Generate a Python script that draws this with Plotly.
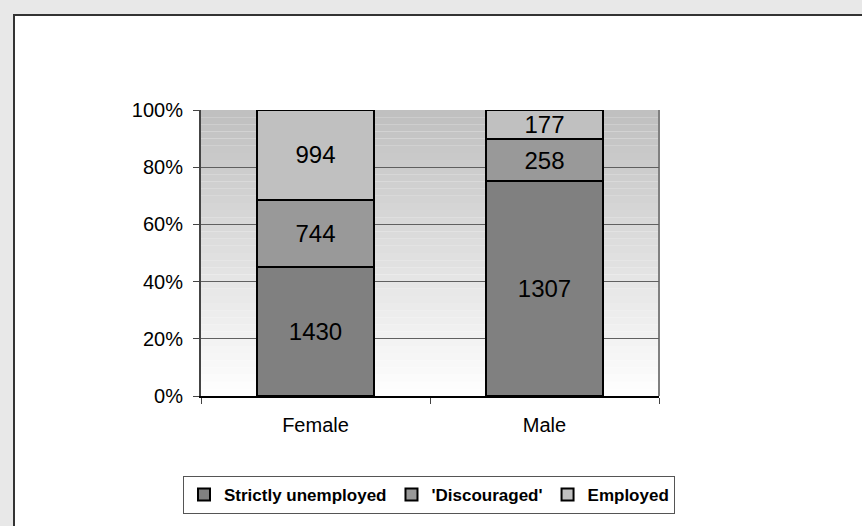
import plotly.graph_objects as go

categories = ["Female", "Male"]
strictly_unemployed = [1430, 1307]
discouraged = [744, 258]
employed = [994, 177]
series_names = ["Strictly unemployed", "'Discouraged'", "Employed"]
series_colors = ["#808080", "#999999", "#c0c0c0"]
y_ticks = [0, 20, 40, 60, 80, 100]

W, H = 862, 526
L, R, T, B = 201, 203, 110, 130
pw, ph = W - L - R, H - T - B

def px_x(p):
    return (p - L) / pw

def px_y(p):
    return (H - B - p) / ph

fig = go.Figure()
for name, vals, col in zip(series_names, [strictly_unemployed, discouraged, employed], series_colors):
    fig.add_trace(go.Bar(
        name=name, x=categories, y=vals, text=[str(v) for v in vals],
        texttemplate="%{text}", textposition="inside", insidetextanchor="middle",
        textangle=0, constraintext="none",
        textfont=dict(family="Liberation Sans, Arial", size=24, color="black"),
        marker=dict(color=col, line=dict(color="black", width=2)),
    ))

shapes = []
# outer white panel with dark border
shapes.append(dict(type="rect", xref="paper", yref="paper",
                   x0=px_x(14), x1=px_x(880), y0=px_y(545), y1=px_y(15),
                   fillcolor="white", line=dict(color="#333333", width=2), layer="below"))
# gradient plot background
n = 40
for i in range(n):
    f0, f1 = i / n, (i + 1) / n
    t = (i + 0.5) / n
    g = int(round(255 - (255 - 191) * t))
    shapes.append(dict(type="rect", xref="x domain", yref="y domain",
                       x0=0, x1=1, y0=f0, y1=f1, fillcolor=f"rgb({g},{g},{g})",
                       line=dict(width=0), layer="below"))
# right border of plot area
shapes.append(dict(type="line", xref="x domain", yref="y domain", x0=1, x1=1, y0=0, y1=1,
                   line=dict(color="#808080", width=2), layer="below"))

fig.update_layout(
    width=W, height=H,
    margin=dict(l=L, r=R, t=T, b=B, autoexpand=False),
    paper_bgcolor="#e8e8e8", plot_bgcolor="rgba(0,0,0,0)",
    barmode="stack", barnorm="percent", bargap=0.493,
    font=dict(family="Liberation Sans, Arial", size=20, color="black"),
    shapes=shapes,
    showlegend=True,
    legend=dict(orientation="h", xref="paper", yref="paper",
                x=px_x(183), xanchor="left", y=px_y(476), yanchor="top",
                bgcolor="white", bordercolor="#555555", borderwidth=1,
                font=dict(family="Liberation Sans, Arial", size=17, color="black", weight="bold"),
                traceorder="normal", itemsizing="constant", itemwidth=30),
    xaxis=dict(showgrid=False, showline=True, linecolor="black", linewidth=2,
               ticks="outside", tickson="boundaries", ticklen=6, tickcolor="#444444",
               ticklabelstandoff=10, tickfont=dict(size=20)),
    yaxis=dict(range=[0, 100], tickvals=y_ticks, ticktext=[f"{v}%" for v in y_ticks],
               showgrid=True, gridcolor="#606060", gridwidth=1,
               showline=True, linecolor="#444444", linewidth=2,
               ticks="outside", ticklen=6, tickcolor="#444444", zeroline=False,
               ticklabelstandoff=6, tickfont=dict(size=20)),
)

fig.write_html("out.html", config={"displayModeBar": False},
               post_script="document.body.style.margin='0';")
